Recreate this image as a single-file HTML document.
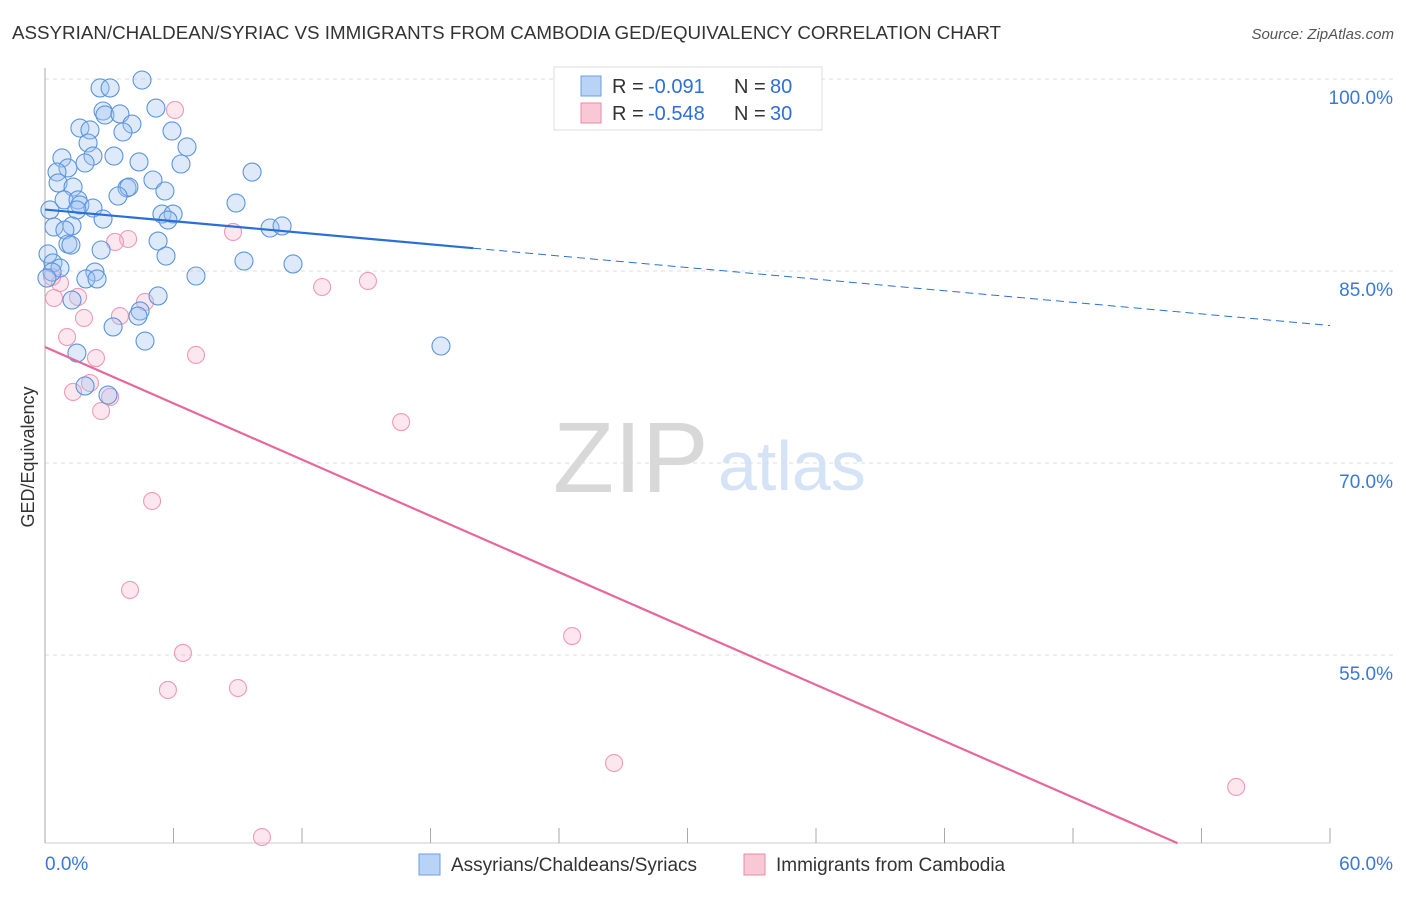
<!DOCTYPE html>
<html><head><meta charset="utf-8"><style>
body{margin:0;background:#fff;font-family:"Liberation Sans",sans-serif;}
svg text{font-family:"Liberation Sans",sans-serif;}
</style></head><body>
<svg id="chart" width="1406" height="892">
<text x="12" y="39" font-size="18" textLength="989" lengthAdjust="spacingAndGlyphs" fill="#333">ASSYRIAN/CHALDEAN/SYRIAC VS IMMIGRANTS FROM CAMBODIA GED/EQUIVALENCY CORRELATION CHART</text>
<text x="1394" y="39" font-size="15" fill="#555" font-style="italic" text-anchor="end">Source: ZipAtlas.com</text>
<text x="34" y="457" font-size="18" fill="#333" transform="rotate(-90 34 457)" text-anchor="middle">GED/Equivalency</text>
<text x="553" y="492" font-size="100" fill="#d8d8d8" font-family="Liberation Serif">ZIP</text>
<text x="718" y="490" font-size="70" fill="#d4e3f5">atlas</text>
<g id="grid"></g><g id="marks"></g>
<g>
<rect x="554" y="67" width="268" height="63" fill="#fff" stroke="#ddd"/>
<rect x="581" y="76" width="20" height="20" fill="#b8d3f5" stroke="#6a9fe0"/>
<text x="612" y="93" font-size="20" fill="#333">R =</text>
<text x="648" y="93" font-size="20" fill="#2d6fd6">-0.091</text>
<text x="734" y="93" font-size="20" fill="#333">N =</text>
<text x="770" y="93" font-size="20" fill="#2d6fd6">80</text>
<rect x="581" y="103" width="20" height="20" fill="#f9c8d6" stroke="#e88aa6"/>
<text x="612" y="120" font-size="20" fill="#333">R =</text>
<text x="648" y="120" font-size="20" fill="#2d6fd6">-0.548</text>
<text x="734" y="120" font-size="20" fill="#333">N =</text>
<text x="770" y="120" font-size="20" fill="#2d6fd6">30</text>
</g>
<g>
<rect x="419" y="854" width="21" height="21" fill="#b8d3f5" stroke="#6a9fe0"/>
<text x="451" y="871" font-size="19" fill="#333">Assyrians/Chaldeans/Syriacs</text>
<rect x="744" y="854" width="21" height="21" fill="#f9c8d6" stroke="#e88aa6"/>
<text x="776" y="871" font-size="19" fill="#333">Immigrants from Cambodia</text>
</g>
</svg>
<script>
const blueX=[4.53,2.57,3.04,2.71,2.80,3.50,5.18,4.06,1.63,2.10,3.64,5.93,2.01,2.24,3.22,0.79,4.39,6.35,6.63,1.07,1.87,0.56,9.67,0.61,1.31,3.83,3.92,5.04,5.60,3.41,0.89,1.54,1.63,2.24,8.92,0.23,1.49,2.71,5.46,5.98,5.74,0.42,1.26,0.93,10.51,11.07,1.07,1.21,2.62,5.28,5.65,0.14,9.29,11.58,0.37,0.70,0.33,2.33,1.91,2.43,7.05,0.09,1.26,5.28,4.44,4.34,3.18,4.67,18.49,1.49,1.87,2.94];
const blueY=[99.92,99.3,99.3,97.5,97.19,97.27,97.73,96.48,96.17,96.02,95.86,95.94,95.0,93.98,93.98,93.83,93.52,93.36,94.69,93.05,93.44,92.73,92.73,91.88,91.56,91.49,91.56,92.11,91.25,90.86,90.55,90.55,90.16,89.92,90.31,89.77,89.77,89.06,89.45,89.45,88.98,88.44,88.52,88.2,88.36,88.52,87.11,87.03,86.64,87.34,86.17,86.33,85.78,85.55,85.63,85.23,84.92,84.92,84.38,84.38,84.61,84.45,82.73,83.05,81.88,81.48,80.63,79.53,79.14,78.59,76.02,75.31];
const pinkX=[6.07,8.78,3.88,3.27,12.94,15.08,0.70,1.54,0.42,4.67,3.50,1.82,1.03,7.05,2.38,2.10,1.31,3.04,2.62,16.63,5.0,3.97,24.61,6.44,5.74,9.01,26.57,10.13,55.62,0.33];
const pinkY=[97.58,88.05,87.5,87.27,83.75,84.22,84.06,82.97,82.89,82.58,81.48,81.33,79.84,78.44,78.2,76.25,75.55,75.16,74.06,73.2,67.03,60.08,56.48,55.16,52.27,52.42,46.56,40.78,44.69,84.53];
const yTicks=[100,85,70,55];
const xTicks=[0,6,12,18,24,30,36,42,48,54,60];
const blueTrend=[89.8,-0.151];
const pinkTrend=[79.06,-0.733];
const NS="http://www.w3.org/2000/svg";
const sx=v=>45+v/60*1285;
const sy=v=>79+(100-v)*12.8;
function mk(tag,attrs,parent){const e=document.createElementNS(NS,tag);for(const k in attrs)e.setAttribute(k,attrs[k]);parent.appendChild(e);return e;}
const grid=document.getElementById('grid'),marks=document.getElementById('marks');
yTicks.forEach(t=>{
 const l=mk('line',{x1:45,x2:1394,y1:sy(t),y2:sy(t),stroke:'#ddd','stroke-dasharray':'4,4'},grid);
 
 
 const tx=mk('text',{x:1393,y:sy(t)+25,'font-size':19,fill:'#3a78d8','text-anchor':'end'},grid);
 tx.textContent=t.toFixed(1)+'%';
 
 
});
const ax=mk('line',{x1:45,x2:45,y1:68,y2:843,stroke:'#aaa'},grid);


const bx=mk('line',{x1:45,x2:1330,y1:843,y2:843,stroke:'#ccc'},grid);


xTicks.forEach(t=>{
 const l=mk('line',{x1:sx(t),x2:sx(t),y1:828,y2:843,stroke:'#aaa'},grid);
 
 
});
const xl0=mk('text',{x:45,y:870,'font-size':19,fill:'#3a78d8'},grid);xl0.textContent=xTicks[0].toFixed(1)+'%';


const xl1=mk('text',{x:1393,y:870,'font-size':19,fill:'#3a78d8','text-anchor':'end'},grid);xl1.textContent=xTicks[xTicks.length-1].toFixed(1)+'%';


pinkX.forEach((x,i)=>{
 const c=mk('circle',{cx:sx(x),cy:sy(pinkY[i]),r:8.5,fill:'rgba(246,176,198,0.3)',stroke:'#ef9ab4','stroke-width':1.1},marks);
 
 
});
blueX.forEach((x,i)=>{
 const c=mk('circle',{cx:sx(x),cy:sy(blueY[i]),r:9,fill:'rgba(160,196,240,0.35)',stroke:'#5b95df','stroke-width':1.1},marks);
 
 
});
const bt=v=>blueTrend[0]+blueTrend[1]*v;
const b1=mk('line',{x1:sx(0),y1:sy(bt(0)),x2:sx(20),y2:sy(bt(20)),stroke:'#2a6fd6','stroke-width':2.2},marks);


const b2=mk('line',{x1:sx(20),y1:sy(bt(20)),x2:sx(60),y2:sy(bt(60)),stroke:'#2a6fd6','stroke-width':1,'stroke-dasharray':'8,5'},marks);


const pt=v=>pinkTrend[0]+pinkTrend[1]*v;
const xEnd=(40.3-pinkTrend[0])/pinkTrend[1];
const p1=mk('line',{x1:sx(0),y1:sy(pt(0)),x2:sx(xEnd),y2:sy(pt(xEnd)),stroke:'#e8679a','stroke-width':2.2},marks);


</script>
</body></html>
